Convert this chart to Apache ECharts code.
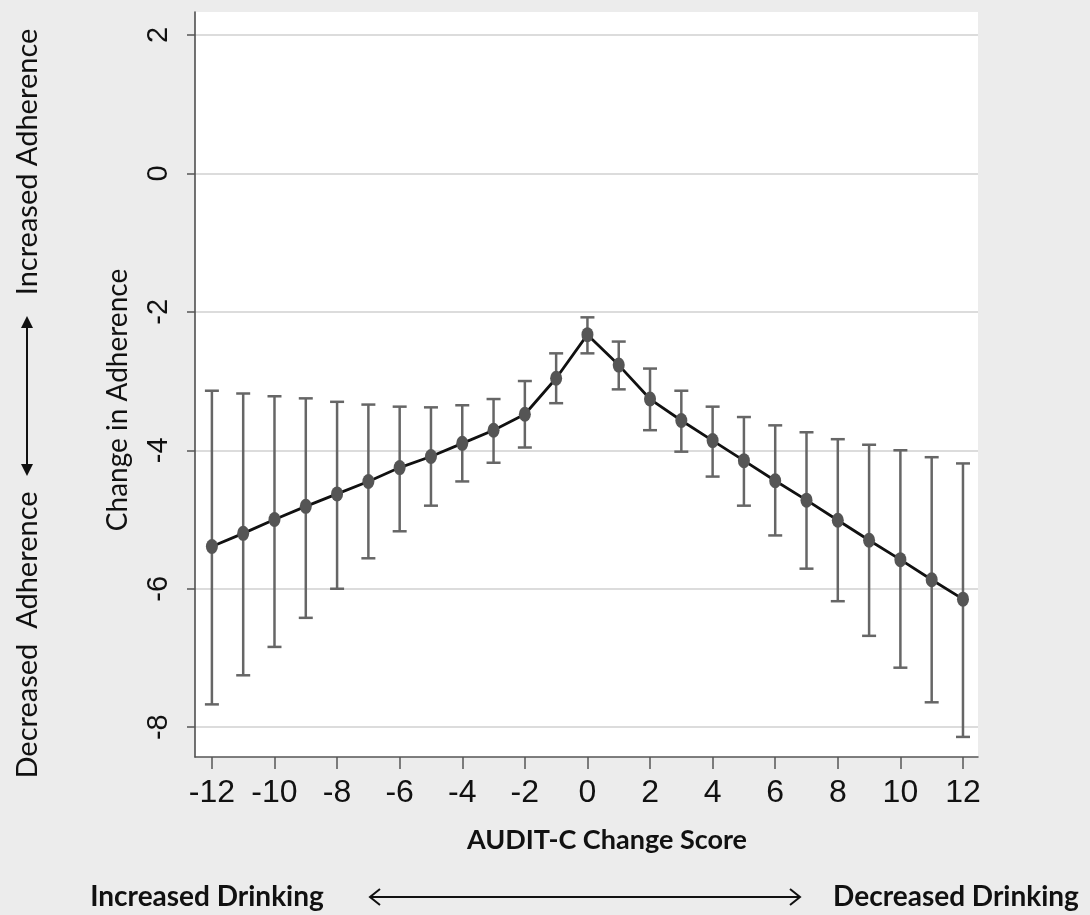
<!DOCTYPE html>
<html lang="en">
  <head>
    <meta charset="UTF-8" />
    <title>AUDIT-C change vs adherence</title>
    <script src="https://cdn.jsdelivr.net/npm/echarts@6/dist/echarts.min.js"></script>
  </head>
  <body style="margin: 0; background: #ececec">
    <div id="main" style="width: 1090px; height: 915px"></div>
    <script type="text/javascript">
      // AUDIT-C change score (x) and change in adherence (mean + CI ends)
      const scores = [-12, -11, -10, -9, -8, -7, -6, -5, -4, -3, -2, -1, 0, 1, 2, 3, 4, 5, 6, 7, 8, 9, 10, 11, 12];
      const means = [-5.39, -5.2, -5.0, -4.81, -4.63, -4.45, -4.25, -4.09, -3.9, -3.71, -3.48, -2.96, -2.33, -2.77, -3.26, -3.57, -3.86, -4.15, -4.44, -4.72, -5.01, -5.3, -5.58, -5.87, -6.15];
      const upper = [-3.14, -3.18, -3.22, -3.25, -3.3, -3.34, -3.37, -3.38, -3.35, -3.26, -3.0, -2.6, -2.08, -2.43, -2.82, -3.14, -3.37, -3.52, -3.64, -3.74, -3.84, -3.92, -4.0, -4.1, -4.19];
      const lower = [-7.67, -7.25, -6.84, -6.42, -6.0, -5.56, -5.17, -4.8, -4.45, -4.18, -3.96, -3.32, -2.6, -3.12, -3.71, -4.02, -4.38, -4.8, -5.23, -5.71, -6.18, -6.68, -7.14, -7.64, -8.14];
      const xTicks = [-12, -10, -8, -6, -4, -2, 0, 2, 4, 6, 8, 10, 12];
      const yTicks = [-8, -6, -4, -2, 0, 2];

      const lineData = scores.map((x, i) => [x, means[i]]);
      const barData = scores.map((x, i) => [x, lower[i], upper[i]]);

      let myChart = echarts.init(document.getElementById("main"));

      // error bar with caps
      function renderBar(params, api) {
        const x = api.value(0);
        const lo = api.coord([x, api.value(1)]);
        const hi = api.coord([x, api.value(2)]);
        const cap = 7;
        const style = { stroke: "#666", lineWidth: 2.5 };
        return {
          type: "group",
          children: [
            { type: "line", shape: { x1: hi[0], y1: hi[1], x2: lo[0], y2: lo[1] }, style: style },
            { type: "line", shape: { x1: hi[0] - cap, y1: hi[1], x2: hi[0] + cap, y2: hi[1] }, style: style },
            { type: "line", shape: { x1: lo[0] - cap, y1: lo[1], x2: lo[0] + cap, y2: lo[1] }, style: style },
          ],
        };
      }

      const txtFont = "Lato, 'Open Sans', sans-serif";
      function label(text, x, y, opts) {
        return Object.assign(
          {
            type: "text",
            x: x,
            y: y,
            style: {
              text: text,
              fill: "#111",
              font: (opts && opts.font) || "24px " + txtFont,
              textAlign: "center",
              textVerticalAlign: "middle",
            },
          },
          opts && opts.rotation ? { rotation: opts.rotation } : {}
        );
      }

      let options = {
        backgroundColor: "#ececec",
        animation: false,
        grid: {
          left: 195,
          top: 12,
          width: 783,
          height: 745,
          show: true,
          backgroundColor: "#ffffff",
          borderWidth: 0,
        },
        xAxis: {
          type: "value",
          min: -12.54,
          max: 12.48,
          axisLine: { show: true, onZero: false, lineStyle: { color: "#555", width: 1.5 } },
          axisTick: { show: true, length: 12, customValues: xTicks, lineStyle: { color: "#555", width: 1.5 } },
          axisLabel: {
            customValues: xTicks,
            margin: 20,
            fontSize: 32,
            fontFamily: "'Liberation Sans', Arial, sans-serif",
            color: "#111",
          },
          splitLine: { show: false },
        },
        yAxis: {
          type: "value",
          min: -8.43,
          max: 2.33,
          axisLine: { show: true, onZero: false, lineStyle: { color: "#444", width: 1.5 } },
          axisTick: { show: true, length: 8, customValues: yTicks, lineStyle: { color: "#555", width: 1.5 } },
          axisLabel: {
            customValues: yTicks,
            rotate: 90,
            margin: 22,
            fontSize: 29,
            fontFamily: "'Liberation Sans', Arial, sans-serif",
            color: "#111",
          },
          splitLine: { show: true, lineStyle: { color: "#dcdcdc", width: 2 } },
        },
        series: [
          {
            type: "custom",
            renderItem: renderBar,
            data: barData,
            encode: { x: 0, y: [1, 2] },
            clip: false,
            z: 2,
          },
          {
            type: "line",
            data: lineData,
            lineStyle: { color: "#111", width: 2.8 },
            symbol: "circle",
            symbolSize: [12, 15],
            itemStyle: { color: "#555" },
            z: 3,
          },
        ],
        graphic: [
          label("AUDIT-C Change Score", 607, 840, { font: "bold 27px " + txtFont }),
          label("Increased Drinking", 207, 897, { font: "bold 28px " + txtFont }),
          label("Decreased Drinking", 956, 897, { font: "bold 28px " + txtFont }),
          label("Change in Adherence", 118, 400, { rotation: Math.PI / 2, font: "28px " + txtFont }),
          label("Increased Adherence", 28, 162, { rotation: Math.PI / 2, font: "29px " + txtFont }),
          label("Decreased  Adherence", 28, 635, { rotation: Math.PI / 2, font: "29px " + txtFont }),
          // horizontal double arrow (open heads)
          { type: "line", shape: { x1: 370, y1: 897, x2: 800, y2: 897 }, style: { stroke: "#111", lineWidth: 2 } },
          { type: "polyline", shape: { points: [[380, 889], [370, 897], [380, 905]] }, style: { stroke: "#111", lineWidth: 2, fill: null } },
          { type: "polyline", shape: { points: [[790, 889], [800, 897], [790, 905]] }, style: { stroke: "#111", lineWidth: 2, fill: null } },
          // vertical double arrow (filled heads)
          { type: "line", shape: { x1: 27, y1: 322, x2: 27, y2: 470 }, style: { stroke: "#111", lineWidth: 2 } },
          { type: "polygon", shape: { points: [[27, 316], [21, 328], [33, 328]] }, style: { fill: "#111" } },
          { type: "polygon", shape: { points: [[27, 476], [21, 464], [33, 464]] }, style: { fill: "#111" } },
        ],
      };

      myChart.setOption(options);
    </script>
  </body>
</html>
